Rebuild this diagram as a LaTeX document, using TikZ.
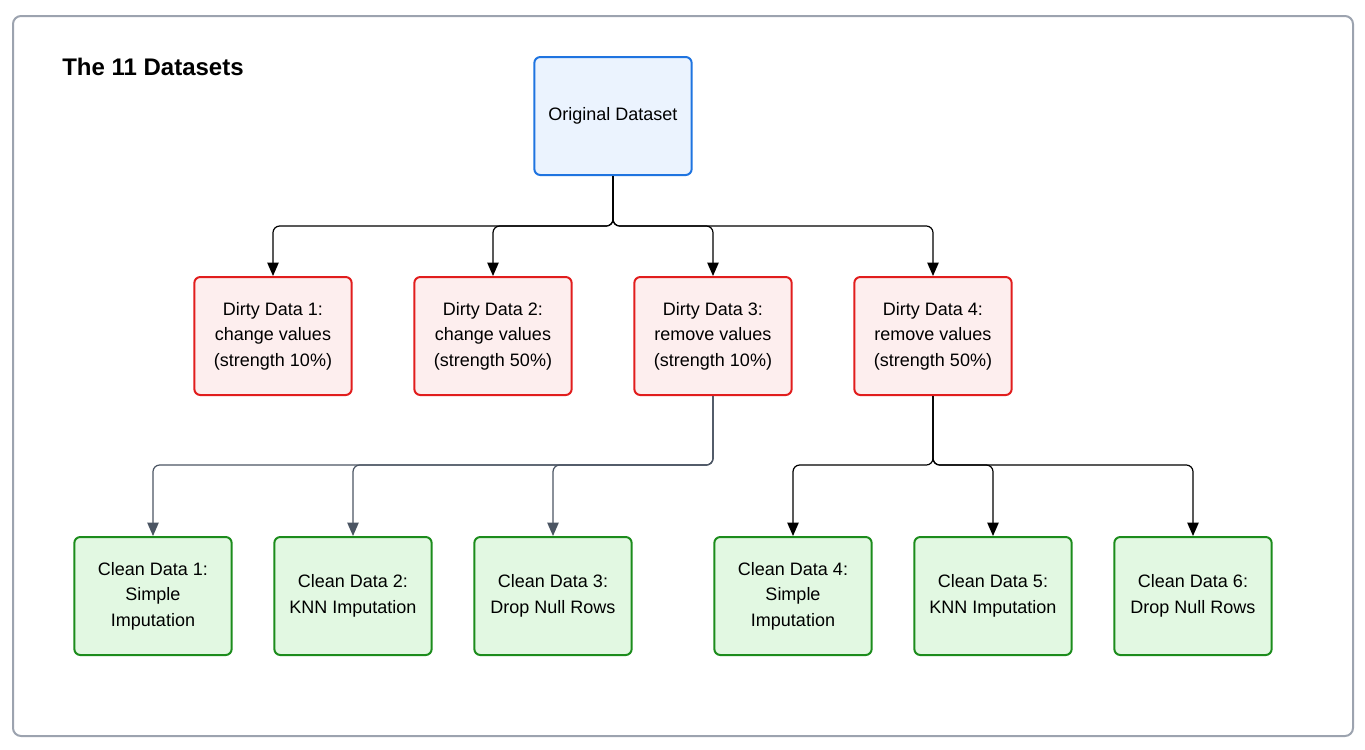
\documentclass[tikz,border=0pt]{standalone}
\usepackage{fontspec}
\setmainfont{Liberation Sans}
\usetikzlibrary{arrows.meta}
\definecolor{frameC}{HTML}{9CA3AF}
\definecolor{blueB}{HTML}{1F74E0}
\definecolor{blueF}{HTML}{EBF3FE}
\definecolor{redB}{HTML}{E11D1D}
\definecolor{redF}{HTML}{FDEEEE}
\definecolor{greenB}{HTML}{1C8C1C}
\definecolor{greenF}{HTML}{E2F8E2}
\definecolor{grayA}{HTML}{4B5563}
\tikzset{
  box/.style={rounded corners=4.5pt, line width=1.5pt, minimum width=118pt, minimum height=88.5pt, align=center, font=\fontsize{13.5}{19.2}\selectfont, inner sep=0pt},
  origbox/.style={box, draw=blueB, fill=blueF},
  dirtybox/.style={box, draw=redB, fill=redF},
  cleanbox/.style={box, draw=greenB, fill=greenF},
  conn/.style={line width=0.9pt, rounded corners=5pt, -{Triangle[length=10pt,width=8.5pt]}},
}
\begin{document}
\begin{tikzpicture}[x=0.75pt,y=-0.75pt]
\useasboundingbox (0,0) rectangle (1365,750);
\draw[frameC, line width=1.5pt, rounded corners=6pt] (13,16) rectangle (1353,736);
\node[anchor=west, inner sep=0pt, font=\bfseries\fontsize{18}{22}\selectfont] (title) at (62,67) {The 11 Datasets};

\node[origbox] (orig) at (613,116) {Original Dataset};

\node[dirtybox] (d1) at (273,336) {Dirty Data 1:\\change values\\(strength 10\%)};
\node[dirtybox] (d2) at (493,336) {Dirty Data 2:\\change values\\(strength 50\%)};
\node[dirtybox] (d3) at (713,336) {Dirty Data 3:\\remove values\\(strength 10\%)};
\node[dirtybox] (d4) at (933,336) {Dirty Data 4:\\remove values\\(strength 50\%)};

\node[cleanbox] (c1) at (153,596) {Clean Data 1:\\Simple\\Imputation};
\node[cleanbox] (c2) at (353,596) {Clean Data 2:\\KNN Imputation};
\node[cleanbox] (c3) at (553,596) {Clean Data 3:\\Drop Null Rows};
\node[cleanbox] (c4) at (793,596) {Clean Data 4:\\Simple\\Imputation};
\node[cleanbox] (c5) at (993,596) {Clean Data 5:\\KNN Imputation};
\node[cleanbox] (c6) at (1193,596) {Clean Data 6:\\Drop Null Rows};

\foreach \t in {d1,d2,d3,d4}{
  \draw[conn, black] (orig.south) |- ([yshift=37.5pt]\t.north) -- (\t.north);
}
\foreach \t in {c1,c2,c3}{
  \draw[conn, grayA] (d3.south) |- ([yshift=53.25pt]\t.north) -- (\t.north);
}
\foreach \t in {c4,c5,c6}{
  \draw[conn, black] (d4.south) |- ([yshift=53.25pt]\t.north) -- (\t.north);
}
\end{tikzpicture}
\end{document}
